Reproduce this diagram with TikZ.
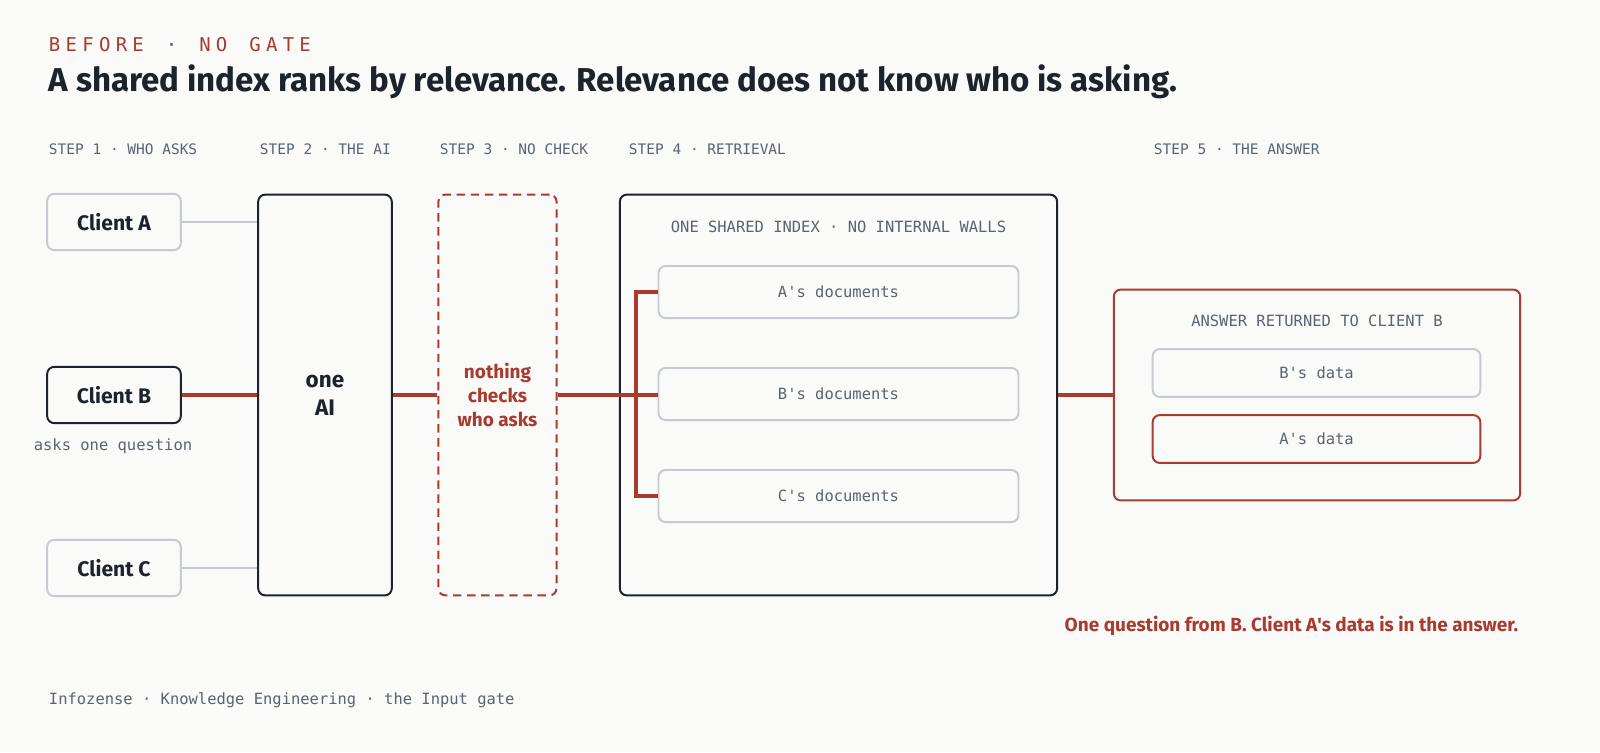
\documentclass[tikz,border=0pt]{standalone}
\usepackage{fontspec}
\setmainfont{Fira Sans}
\setmonofont{DejaVu Sans Mono}
\usetikzlibrary{positioning}
\definecolor{bg}{HTML}{FAFAF8}
\definecolor{gatered}{HTML}{A93A2E}
\definecolor{ink}{HTML}{1C232B}
\definecolor{rim}{HTML}{C5CBD0}
\definecolor{mute}{HTML}{5A6470}
\tikzset{
  box/.style = {draw=rim, line width=1.4pt, rounded corners=5pt, fill=bg},
  client/.style = {box, minimum width=95pt, minimum height=40pt, font=\bfseries\fontsize{15}{18}\selectfont, text=ink},
  doc/.style = {box, minimum width=256pt, minimum height=37pt, font=\ttfamily\fontsize{11}{13}\selectfont, text=mute},
  steplabel/.style = {anchor=west, font=\ttfamily\fontsize{10.3}{12}\selectfont, text=mute},
  wire/.style = {draw=rim, line width=1.4pt},
  hot/.style = {draw=gatered, line width=2.2pt},
}
\begin{document}
\begin{tikzpicture}[x=0.025cm, y=-0.025cm]
\fill[bg] (0,0) rectangle (1600,752);
\useasboundingbox (0,0) rectangle (1600,752);
% header
\node[anchor=west, text=gatered, font=\ttfamily\fontsize{13.5}{15}\selectfont] (kicker) at (44,45) {B\;E\;F\;O\;R\;E\; \;·\; \;N\;O\; \;G\;A\;T\;E};
\node[anchor=west, text=ink, font=\bfseries\fontsize{23.5}{27}\selectfont] (title) at (44,82) {A shared index ranks by relevance. Relevance does not know who is asking.};
% step labels
\node[steplabel] (s1) at (44,149) {STEP 1 · WHO ASKS};
\node[steplabel] (s2) at (255,149) {STEP 2 · THE AI};
\node[steplabel] (s3) at (435,149) {STEP 3 · NO CHECK};
\node[steplabel] (s4) at (624,149) {STEP 4 · RETRIEVAL};
\node[steplabel] (s5) at (1149,149) {STEP 5 · THE ANSWER};
% clients
\node[client] (ca) at (114,222) {Client A};
\node[client, draw=ink] (cb) at (114,395) {Client B};
\node[client] (cc) at (114,568) {Client C};
\node[text=mute, font=\ttfamily\fontsize{11}{13}\selectfont] (ask) at (113,446) {asks one question};
% the AI
\node[box, draw=ink, minimum width=95pt, minimum height=285pt, align=center, text=ink, font=\bfseries\fontsize{16}{20}\selectfont] (ai) at (325,395) {one\\AI};
% no check
\node[box, draw=gatered, dashed, dash pattern=on 6pt off 4pt, minimum width=84pt, minimum height=285pt, align=center, text=gatered, font=\bfseries\fontsize{13.5}{17}\selectfont] (gate) at (497.5,395) {nothing\\checks\\who asks};
% index
\node[box, draw=ink, minimum width=311pt, minimum height=285pt] (index) at (838.5,395) {};
\node[text=mute, font=\ttfamily\fontsize{11}{13}\selectfont] (ihead) at (838.5,227) {ONE SHARED INDEX · NO INTERNAL WALLS};
\node[doc] (da) at (838.5,292) {A's documents};
\node[doc] (db) at (838.5,394) {B's documents};
\node[doc] (dc) at (838.5,496) {C's documents};
\coordinate (bt) at (636,292);
\coordinate (bb) at (636,496);
% answer
\node[box, draw=gatered, minimum width=289pt, minimum height=150pt] (ans) at (1317,395) {};
\node[text=mute, font=\ttfamily\fontsize{11}{13}\selectfont] (ahead) at (1317,321) {ANSWER RETURNED TO CLIENT B};
\node[doc, minimum width=233pt, minimum height=34pt] (bd) at (1316.5,373) {B's data};
\node[doc, draw=gatered, minimum width=233pt, minimum height=34pt] (ad) at (1316.5,439) {A's data};
% connectors
\draw[wire] (ca) -- (ai.west |- ca);
\draw[wire] (cc) -- (ai.west |- cc);
\draw[hot] (cb) -- (ai.west |- cb);
\draw[hot] (ai.east |- cb) -- (gate.west |- cb);
\draw[hot] (gate.east |- cb) -- (db.west |- cb);
\draw[hot] (da.west) -- (bt) -- (bb) -- (dc.west);
\draw[hot] (index.east |- cb) -- (ans.west |- cb);
% footer
\node[anchor=east, text=gatered, font=\bfseries\fontsize{13.5}{16}\selectfont] (verdict) at (1523,626) {One question from B. Client A\textquotesingle s data is in the answer.};
\node[anchor=west, text=mute, font=\ttfamily\fontsize{11}{13}\selectfont] (foot) at (44,700) {Infozense · Knowledge Engineering · the Input gate};
\end{tikzpicture}
\end{document}
